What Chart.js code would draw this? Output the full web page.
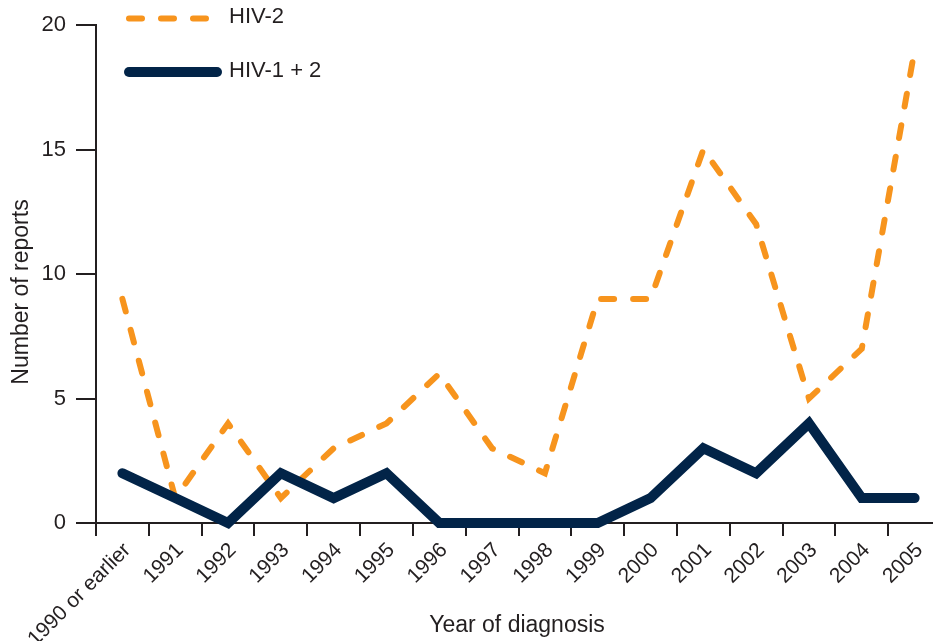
<!DOCTYPE html>
<html>
<head>
<meta charset="utf-8">
<script src="https://cdn.jsdelivr.net/npm/chart.js@4.4.1/dist/chart.umd.min.js"></script>
<style>
  html, body { margin: 0; padding: 0; background: #fff; overflow: hidden; }
  #wrap { width: 941px; height: 641px; }
</style>
</head>
<body>
<div id="wrap"><canvas id="hivChart" width="941" height="641"></canvas></div>
<script>
const years = ['1990 or earlier','1991','1992','1993','1994','1995','1996','1997','1998','1999','2000','2001','2002','2003','2004','2005'];
const hiv2 = [9,1,4,1,3,4,6,3,2,9,9,15,12,5,7,19];
const hiv12 = [2,1,0,2,1,2,0,0,0,0,1,3,2,4,1,1];
const yTicks = [0,5,10,15,20];

const INK = '#231F20';
const ORANGE = '#F7941D';
const NAVY = '#022448';
const FONT = 'Liberation Sans, Arial, sans-serif';

// legend and axis titles drawn by hand so they sit where the original has them
const overlay = {
  id: 'overlay',
  afterDraw(chart) {
    const ctx = chart.ctx;
    ctx.save();
    ctx.lineCap = 'round';
    ctx.strokeStyle = ORANGE;
    ctx.lineWidth = 6;
    ctx.setLineDash([13, 19]);
    ctx.beginPath(); ctx.moveTo(129, 18.5); ctx.lineTo(207, 18.5); ctx.stroke();
    ctx.setLineDash([]);
    ctx.strokeStyle = NAVY;
    ctx.lineWidth = 10;
    ctx.beginPath(); ctx.moveTo(129, 72); ctx.lineTo(217, 72); ctx.stroke();
    ctx.fillStyle = INK;
    ctx.font = '22px ' + FONT;
    ctx.textBaseline = 'middle';
    ctx.fillText('HIV-2', 229, 17);
    ctx.fillText('HIV-1 + 2', 229, 71);

    ctx.font = '23px ' + FONT;
    ctx.textBaseline = 'alphabetic';
    ctx.textAlign = 'center';
    ctx.fillText('Year of diagnosis', 517, 632);
    ctx.translate(28, 292);
    ctx.rotate(-Math.PI / 2);
    ctx.fillText('Number of reports', 0, 0);
    ctx.restore();
  }
};

new Chart(document.getElementById('hivChart'), {
  type: 'line',
  data: {
    labels: years,
    datasets: [{
      label: 'HIV-2',
      data: hiv2,
      borderColor: ORANGE,
      borderWidth: 6,
      borderDash: [13, 19],
      borderCapStyle: 'round',
      borderJoinStyle: 'miter',
      pointRadius: 0,
      tension: 0,
      fill: false,
      clip: false,
      order: 1
    }, {
      label: 'HIV-1 + 2',
      data: hiv12,
      borderColor: NAVY,
      borderWidth: 10,
      borderCapStyle: 'round',
      borderJoinStyle: 'miter',
      pointRadius: 0,
      tension: 0,
      fill: false,
      clip: false,
      order: 0
    }]
  },
  options: {
    responsive: false,
    animation: false,
    layout: { padding: { top: 25, right: 0, left: 0, bottom: 0 } },
    plugins: { legend: { display: false }, tooltip: { enabled: false } },
    scales: {
      x: {
        offset: true,
        grid: { offset: true, drawOnChartArea: false, drawTicks: true, tickLength: 13, color: INK, lineWidth: 2 },
        border: { display: true, color: INK, width: 2 },
        ticks: { color: INK, font: { family: FONT, size: 21 }, minRotation: 45, maxRotation: 45, padding: 2, labelOffset: 5, autoSkip: false },
        afterFit(scale) { scale.height = 118; }
      },
      y: {
        min: 0,
        max: 20,
        afterBuildTicks(scale) { scale.ticks = yTicks.map(v => ({ value: v })); },
        grid: { drawOnChartArea: false, drawTicks: true, tickLength: 20, color: INK, lineWidth: 2 },
        border: { display: true, color: INK, width: 2 },
        ticks: { color: INK, font: { family: FONT, size: 22 }, padding: 10 },
        afterFit(scale) { scale.width = 96; }
      }
    }
  },
  plugins: [overlay]
});
</script>
</body>
</html>
